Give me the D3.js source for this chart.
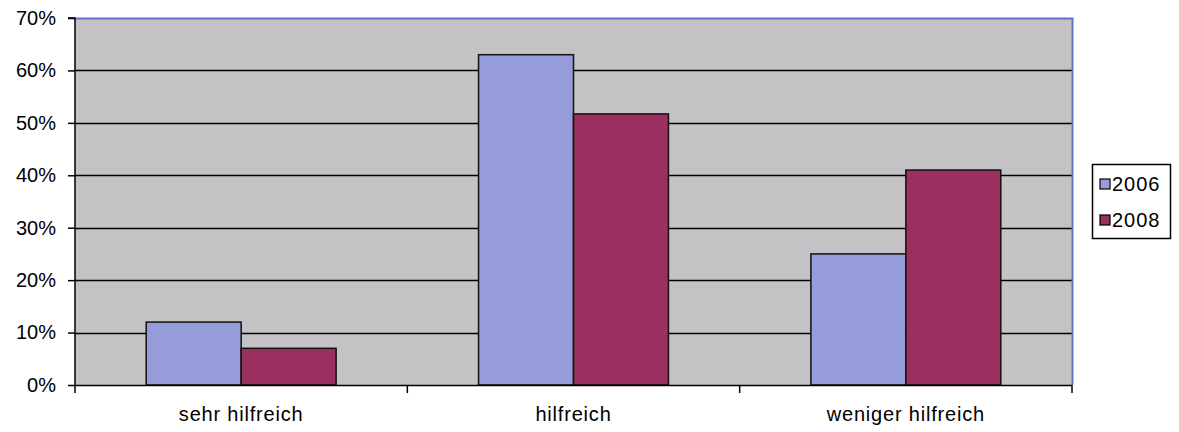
<!DOCTYPE html>
<html>
<head>
<meta charset="utf-8">
<script src="https://cdn.jsdelivr.net/npm/d3@7"></script>
<style>
  html, body { margin: 0; padding: 0; background: #fff; }
  svg { display: block; }
  text { font-family: "Liberation Sans", Arial, sans-serif; fill: #000; }
</style>
</head>
<body>
<svg id="chart" width="1179" height="432"></svg>
<script>
const categories = ["sehr hilfreich", "hilfreich", "weniger hilfreich"];
const seriesNames = ["2006", "2008"];
const values2006 = [0.12, 0.63, 0.25];
const values2008 = [0.07, 0.517, 0.41];
const yTicks = [0, 0.1, 0.2, 0.3, 0.4, 0.5, 0.6, 0.7];
const colors = ["#959CD9", "#9B2F5F"];

const seriesValues = [values2006, values2008];
const svg = d3.select("#chart");
const m = { left: 75, right: 1072, top: 18, bottom: 385 };

const x = d3.scaleBand().domain(categories).range([m.left, m.right]).paddingInner(0).paddingOuter(0);
const x1 = d3.scaleBand().domain(seriesNames).range([0, x.bandwidth()]).paddingInner(0).paddingOuter(0.75);
const y = d3.scaleLinear().domain([0, 0.7]).range([m.bottom, m.top]);

// plot background
svg.append("rect").attr("x", m.left).attr("y", m.top)
  .attr("width", m.right - m.left).attr("height", m.bottom - m.top)
  .attr("fill", "#C4C2C5");

// gridlines
svg.append("g").selectAll("line").data(yTicks.filter(d => d > 0 && d < 0.7)).join("line")
  .attr("x1", m.left).attr("x2", m.right)
  .attr("y1", d => Math.round(y(d)) + 0.5).attr("y2", d => Math.round(y(d)) + 0.5)
  .attr("stroke", "#000").attr("stroke-width", 1.5);

// plot border top/right (blue)
svg.append("path")
  .attr("d", `M${m.left},${m.top + 0.5}H${m.right + 0.5}V${m.bottom}`)
  .attr("fill", "none").attr("stroke", "#6670C8").attr("stroke-width", 2);

// bars
const groups = svg.append("g").selectAll("g").data(categories).join("g")
  .attr("transform", d => `translate(${x(d)},0)`);
groups.selectAll("rect").data((c, i) => seriesNames.map((s, k) => ({ s, k, v: seriesValues[k][i] }))).join("rect")
  .attr("x", d => x1(d.s))
  .attr("width", x1.bandwidth())
  .attr("y", d => y(d.v))
  .attr("height", d => y(0) - y(d.v))
  .attr("fill", d => colors[d.k])
  .attr("stroke", "#111").attr("stroke-width", 1.5);

// y axis
const yAxis = d3.axisLeft(y).tickValues(yTicks).tickFormat(d3.format(".0%")).tickSize(7).tickPadding(12);
const ya = svg.append("g").attr("transform", `translate(${m.left},0)`).call(yAxis);
ya.select(".domain").attr("stroke", "#000").attr("stroke-width", 1.5).attr("d", `M-7,${m.top}H0V${m.bottom + 1}`);
ya.selectAll(".tick line").attr("stroke", "#000").attr("stroke-width", 1.5);
ya.selectAll("text").attr("font-size", "20px").attr("font-family", "Liberation Sans, Arial, sans-serif").attr("fill", "#000");

// x axis
const xAxis = d3.axisBottom(x).tickSize(0).tickPadding(22);
const xa = svg.append("g").attr("transform", `translate(0,${m.bottom})`).call(xAxis);
xa.select(".domain").attr("stroke", "#000").attr("stroke-width", 1.5).attr("d", `M${m.left},0.5H${m.right}`);
xa.selectAll("text").attr("font-size", "20px").attr("letter-spacing", "0.8px")
  .attr("font-family", "Liberation Sans, Arial, sans-serif").attr("fill", "#000");
// category boundary ticks
const bounds = categories.map(c => x(c)).concat([m.right]);
xa.append("g").selectAll("line").data(bounds).join("line")
  .attr("x1", d => d).attr("x2", d => d).attr("y1", 0).attr("y2", 8)
  .attr("stroke", "#000").attr("stroke-width", 1.5);

// legend
const lg = svg.append("g").attr("transform", "translate(1092,164)");
lg.append("rect").attr("x", 0.5).attr("y", 0.5).attr("width", 78).attr("height", 74)
  .attr("fill", "#fff").attr("stroke", "#000").attr("stroke-width", 1.5);
const li = lg.selectAll("g.item").data(seriesNames).join("g").attr("class", "item")
  .attr("transform", (d, i) => `translate(0,${20 + i * 36})`);
li.append("rect").attr("x", 8).attr("y", -5).attr("width", 10).attr("height", 10)
  .attr("fill", (d, i) => colors[i]).attr("stroke", "#000").attr("stroke-width", 1.2);
li.append("text").attr("x", 20).attr("y", 7).attr("font-size", "20px").attr("letter-spacing", "1px").text(d => d);
</script>
</body>
</html>
